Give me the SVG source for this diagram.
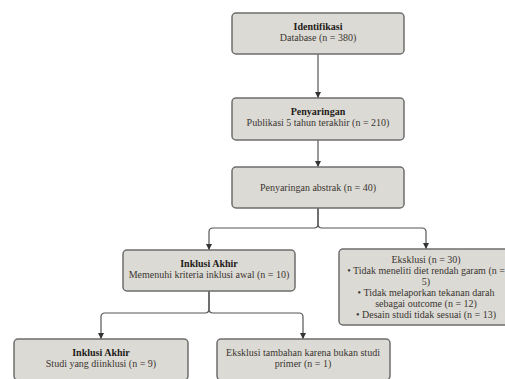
<svg xmlns="http://www.w3.org/2000/svg" width="505" height="379" viewBox="0 0 505 379">
<style>
.box{fill:#dcdad4;stroke:#6e6e6e;stroke-width:1.5}
text{font-family:"Liberation Serif","DejaVu Serif",serif;font-size:10px;fill:#3a3632;text-anchor:middle}
.b{font-weight:bold;fill:#1e1b18}
.c{fill:none;stroke:#555;stroke-width:1.2}
</style>
<defs>
<marker id="ah" viewBox="0 0 10 10" refX="10" refY="5" markerWidth="6" markerHeight="6" markerUnits="userSpaceOnUse" orient="auto">
<path d="M0,0 L10,5 L0,10 z" fill="#333"/>
</marker>
</defs>
<rect width="505" height="379" fill="#ffffff"/>
<g id="connectors">
<path class="c" d="M318,54 V98" marker-end="url(#ah)"/>
<path class="c" d="M318,140 V167" marker-end="url(#ah)"/>
<path class="c" d="M318,208 V224 Q318,228 314,228 H213 Q209,228 209,232 V250" marker-end="url(#ah)"/>
<path class="c" d="M318,208 V224 Q318,228 322,228 H422 Q426,228 426,232 V249" marker-end="url(#ah)"/>
<path class="c" d="M209,291 V309 Q209,313 205,313 H105 Q101,313 101,317 V339" marker-end="url(#ah)"/>
<path class="c" d="M209,291 V309 Q209,313 213,313 H299 Q303,313 303,317 V339" marker-end="url(#ah)"/>
</g>
<g id="identifikasi">
<rect class="box" x="232" y="13" width="172" height="41" rx="4"/>
<text class="b" x="318" y="30">Identifikasi</text>
<text x="318" y="41">Database (n = 380)</text>
</g>
<g id="penyaringan">
<rect class="box" x="232" y="98" width="172" height="42" rx="4"/>
<text class="b" x="318" y="115">Penyaringan</text>
<text x="318" y="126">Publikasi 5 tahun terakhir (n = 210)</text>
</g>
<g id="abstrak">
<rect class="box" x="232" y="167" width="172" height="41" rx="4"/>
<text x="318" y="191">Penyaringan abstrak (n = 40)</text>
</g>
<g id="inklusi-awal">
<rect class="box" x="123" y="250" width="172" height="41" rx="4"/>
<text class="b" x="209" y="267">Inklusi Akhir</text>
<text x="209" y="278">Memenuhi kriteria inklusi awal (n = 10)</text>
</g>
<g id="eksklusi">
<rect class="box" x="339" y="249" width="174" height="76" rx="4"/>
<text x="426" y="263">Eksklusi (n = 30)</text>
<text x="426" y="274">• Tidak meneliti diet rendah garam (n =</text>
<text x="426" y="285">5)</text>
<text x="426" y="296">• Tidak melaporkan tekanan darah</text>
<text x="426" y="307">sebagai outcome (n = 12)</text>
<text x="426" y="318">• Desain studi tidak sesuai (n = 13)</text>
</g>
<g id="inklusi-akhir">
<rect class="box" x="14" y="339" width="174" height="41" rx="4"/>
<text class="b" x="101" y="356">Inklusi Akhir</text>
<text x="101" y="367">Studi yang diinklusi (n = 9)</text>
</g>
<g id="eksklusi-tambahan">
<rect class="box" x="217" y="339" width="173" height="41" rx="4"/>
<text x="303" y="356">Eksklusi tambahan karena bukan studi</text>
<text x="303" y="367">primer (n = 1)</text>
</g>
</svg>
